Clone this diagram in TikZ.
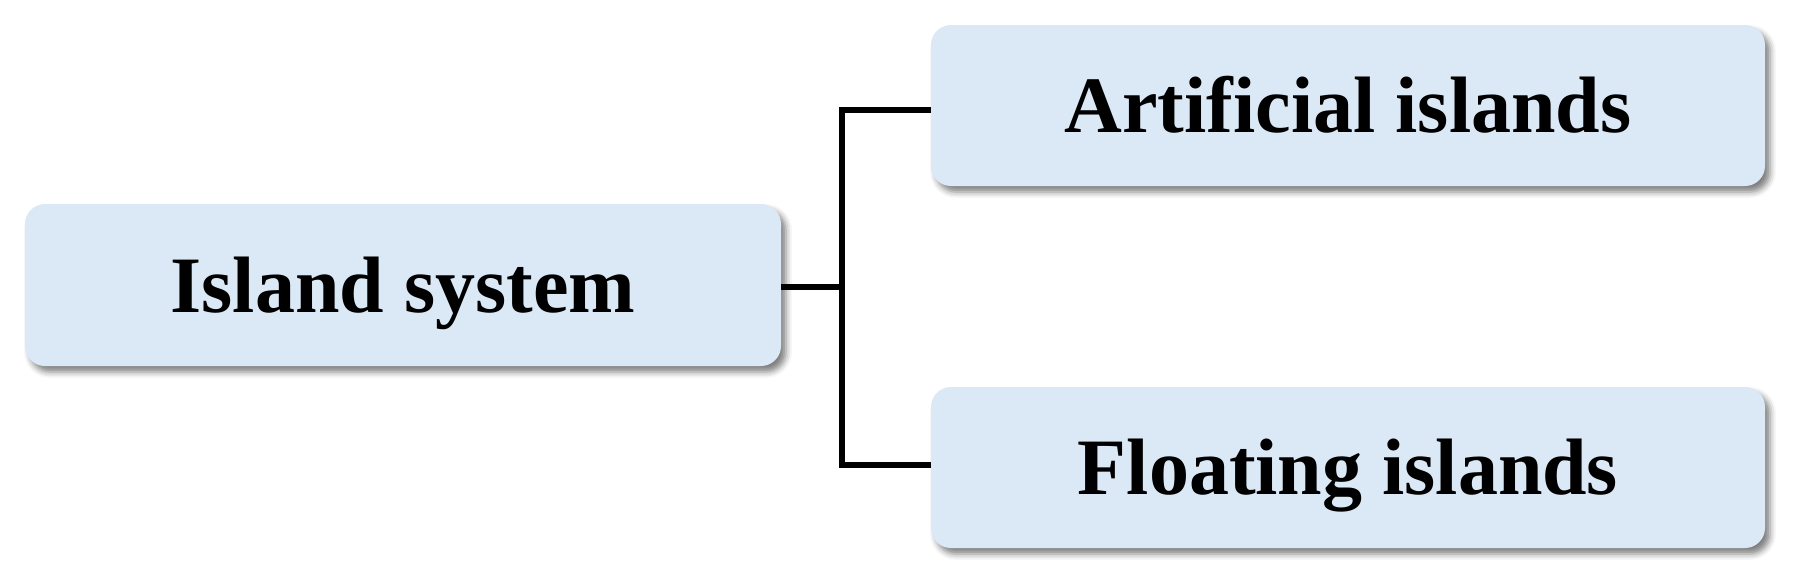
\documentclass[tikz,border=0pt]{standalone}
\usepackage{fontspec}
\setmainfont[Ligatures=NoCommon]{Liberation Serif}
\usetikzlibrary{shadows.blur}
\definecolor{boxfill}{RGB}{219,233,246}
\tikzset{
  box/.style={draw=none, fill=boxfill, rounded corners=20pt, inner sep=0pt,
    text height=54pt, text depth=0pt,
    blur shadow={shadow xshift=5pt, shadow yshift=-6pt, shadow blur radius=6pt, shadow opacity=50},
    font=\bfseries\fontsize{80}{96}\selectfont, text=black},
  conn/.style={line width=6pt, black, line join=miter}
}
\begin{document}
\begin{tikzpicture}[x=1pt,y=1pt]
\useasboundingbox (0,0) rectangle (1796,-582);
\node[box, minimum width=756pt, minimum height=162pt] (isl) at (403,-285) {Island system};
\node[box, minimum width=834pt, minimum height=161pt] (art) at (1348,-105.5) {Artificial islands};
\node[box, minimum width=834pt, minimum height=161pt] (flo) at (1348,-467.5) {Floating islands};
\coordinate (j) at (842,-287);
\draw[conn] (isl.east |- j) -- (j);
\draw[conn] (art.west |- 0,-110) -- (842,-110) -- (842,-465) -- (flo.west |- 0,-465);
\end{tikzpicture}
\end{document}
